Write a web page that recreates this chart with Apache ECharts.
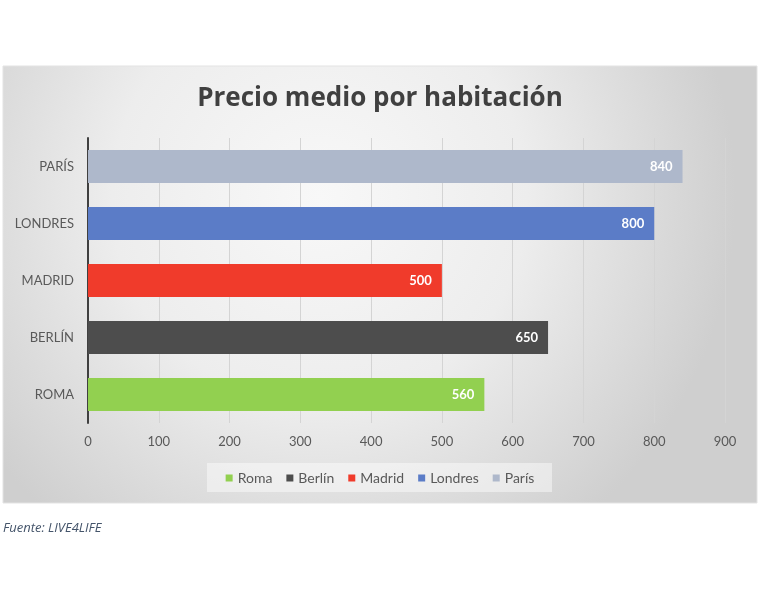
<!DOCTYPE html>
<html><head><meta charset="utf-8">
<script src="https://cdn.jsdelivr.net/npm/echarts@6/dist/echarts.min.js"></script>
<style>html,body{margin:0;padding:0;background:#fff}#c{width:760px;height:608px}</style>
</head><body><div id="c"></div>
<script>
var categories = ['ROMA', 'BERLÍN', 'MADRID', 'LONDRES', 'PARÍS'];
var seriesNames = ['Roma', 'Berlín', 'Madrid', 'Londres', 'París'];
var values = [560, 650, 500, 800, 840];
var colors = ['#92d050', '#4d4d4d', '#f03b2b', '#5b7cc7', '#aeb8cb'];
var xTicks = [0, 100, 200, 300, 400, 500, 600, 700, 800, 900];

var FONT = 'Lato, "Open Sans", sans-serif';
var chart = echarts.init(document.getElementById('c'));
var series = seriesNames.map(function (name, i) {
  var d = categories.map(function (c, j) { return j === i ? values[i] : '-'; });
  return {
    name: name, type: 'bar', stack: 'all', data: d, barWidth: 33,
    itemStyle: { color: colors[i] },
    label: { show: true, position: 'insideRight', color: '#fff', fontWeight: 'bold',
             fontSize: 13, fontFamily: FONT, distance: 10 }
  };
});
chart.setOption({
  animation: false,
  graphic: [{
    type: 'rect', z: -10, silent: true,
    shape: { x: 3, y: 66, width: 754, height: 437 },
    style: {
      fill: new echarts.graphic.RadialGradient(0.42, 0.3, 0.95, [
        { offset: 0, color: '#f8f8f8' },
        { offset: 0.5, color: '#ededed' },
        { offset: 1, color: '#cfcfcf' }
      ]),
      stroke: '#e3e3e3', lineWidth: 1
    }
  }, {
    type: 'rect', z: -5, silent: true,
    shape: { x: 207, y: 463, width: 345, height: 29 },
    style: { fill: 'rgba(255,255,255,0.45)' }
  }, {
    type: 'text', left: 3, top: 522,
    style: { text: 'Fuente: LIVE4LIFE', fill: '#44546a', fontSize: 13, fontStyle: 'italic', fontFamily: '"Open Sans", sans-serif' }
  }],
  title: {
    text: 'Precio medio por habitación', left: 'center', top: 81,
    textStyle: { fontSize: 26, fontWeight: 'bold', color: '#404040', fontFamily: '"Open Sans", Lato, sans-serif' }
  },
  legend: {
    data: seriesNames, top: 466, left: 'center', itemWidth: 7, itemHeight: 7, itemGap: 14,
    icon: 'rect',
    textStyle: { fontSize: 14, color: '#595959', fontFamily: FONT }
  },
  grid: { left: 88, right: 35, top: 138, height: 285, containLabel: false },
  xAxis: {
    type: 'value', min: 0, max: 900, interval: 100,
    axisLine: { show: false }, axisTick: { show: false },
    axisLabel: { color: '#595959', fontSize: 13, fontFamily: FONT, margin: 12,
                 formatter: function (v) { return xTicks.indexOf(v) >= 0 ? String(v) : ''; } },
    splitLine: { show: true, lineStyle: { color: '#d4d4d4', width: 1 } }
  },
  yAxis: {
    type: 'category', data: categories,
    axisLine: { show: true, lineStyle: { color: '#404040', width: 2 } },
    axisTick: { show: false },
    axisLabel: { color: '#595959', fontSize: 13, fontFamily: FONT, margin: 14 }
  },
  series: series
});
</script></body></html>
